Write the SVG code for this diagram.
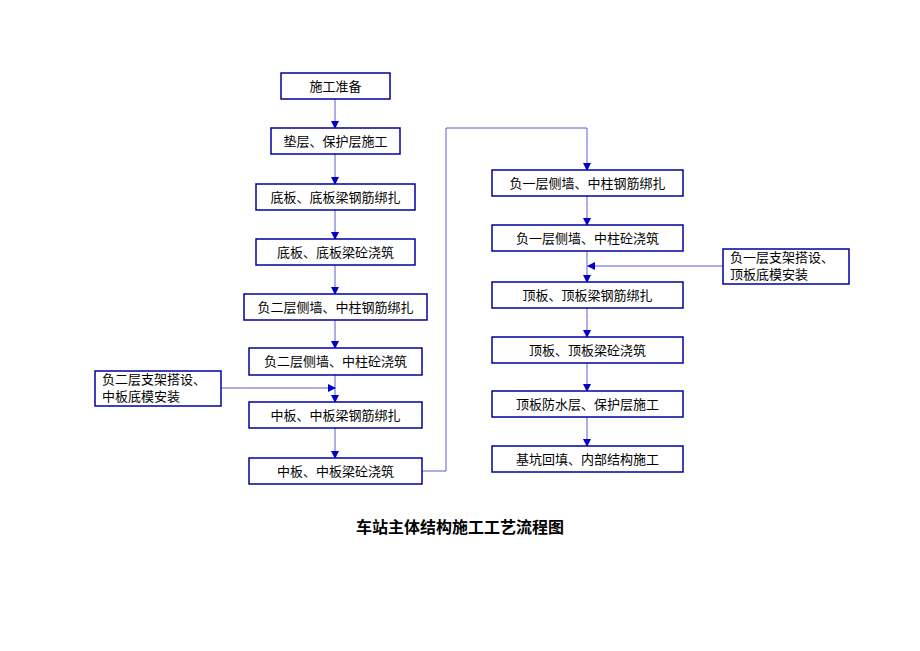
<svg xmlns="http://www.w3.org/2000/svg" width="920" height="651" viewBox="0 0 920 651">
<defs>
<style>
.b{fill:#fff;stroke:#0000a0;stroke-width:1.5}
.t{font-family:"Liberation Sans","Noto Sans CJK SC",sans-serif;font-size:13px;fill:#000;text-anchor:middle}
.l{font-family:"Liberation Sans","Noto Sans CJK SC",sans-serif;font-size:13px;fill:#000}
.c{fill:none;stroke:#3333cc;stroke-width:0.8}
</style>
<marker id="a" markerWidth="8" markerHeight="8" refX="7" refY="4" orient="auto" markerUnits="userSpaceOnUse"><path d="M0,0 L8,4 L0,8 Z" fill="#0000cc"/></marker>
</defs>
<rect width="920" height="651" fill="#fff"/>
<g id="connectors">
<line class="c" x1="335" y1="99" x2="335" y2="128" marker-end="url(#a)"/>
<line class="c" x1="335" y1="154" x2="335" y2="184" marker-end="url(#a)"/>
<line class="c" x1="335" y1="210" x2="335" y2="239" marker-end="url(#a)"/>
<line class="c" x1="335" y1="265" x2="335" y2="294" marker-end="url(#a)"/>
<line class="c" x1="335" y1="320" x2="335" y2="348" marker-end="url(#a)"/>
<line class="c" x1="335" y1="375" x2="335" y2="402" marker-end="url(#a)"/>
<line class="c" x1="335" y1="428" x2="335" y2="458" marker-end="url(#a)"/>
<line class="c" x1="221" y1="388" x2="335" y2="388" marker-end="url(#a)"/>
<polyline class="c" points="422,471 446,471 446,128 587,128 587,170" marker-end="url(#a)"/>
<line class="c" x1="587" y1="196" x2="587" y2="225" marker-end="url(#a)"/>
<line class="c" x1="587" y1="251" x2="587" y2="282" marker-end="url(#a)"/>
<line class="c" x1="587" y1="308" x2="587" y2="337" marker-end="url(#a)"/>
<line class="c" x1="587" y1="363" x2="587" y2="391" marker-end="url(#a)"/>
<line class="c" x1="587" y1="417" x2="587" y2="446" marker-end="url(#a)"/>
<line class="c" x1="723" y1="266" x2="588" y2="266" marker-end="url(#a)"/>
</g>
<g id="n1"><rect class="b" x="281" y="73" width="109" height="26"/><text class="t" x="335.5" y="91">施工准备</text></g>
<g id="n2"><rect class="b" x="271" y="128" width="129" height="26"/><text class="t" x="335.5" y="146">垫层、保护层施工</text></g>
<g id="n3"><rect class="b" x="256" y="184" width="159" height="26"/><text class="t" x="335.5" y="202">底板、底板梁钢筋绑扎</text></g>
<g id="n4"><rect class="b" x="256" y="239" width="159" height="26"/><text class="t" x="335.5" y="257">底板、底板梁砼浇筑</text></g>
<g id="n5"><rect class="b" x="244" y="294" width="183" height="26"/><text class="t" x="335.5" y="312">负二层侧墙、中柱钢筋绑扎</text></g>
<g id="n6"><rect class="b" x="249" y="348" width="173" height="27"/><text class="t" x="335.5" y="366">负二层侧墙、中柱砼浇筑</text></g>
<g id="n7"><rect class="b" x="249" y="402" width="173" height="26"/><text class="t" x="335.5" y="420">中板、中板梁钢筋绑扎</text></g>
<g id="n8"><rect class="b" x="249" y="458" width="173" height="26"/><text class="t" x="335.5" y="476">中板、中板梁砼浇筑</text></g>
<g id="s1"><rect class="b" x="95" y="371" width="126" height="35"/><text class="l" x="102" y="384">负二层支架搭设、</text><text class="l" x="102" y="401">中板底模安装</text></g>
<g id="r1"><rect class="b" x="492" y="170" width="191" height="26"/><text class="t" x="587.5" y="188">负一层侧墙、中柱钢筋绑扎</text></g>
<g id="r2"><rect class="b" x="492" y="225" width="191" height="26"/><text class="t" x="587.5" y="243">负一层侧墙、中柱砼浇筑</text></g>
<g id="r3"><rect class="b" x="492" y="282" width="191" height="26"/><text class="t" x="587.5" y="300">顶板、顶板梁钢筋绑扎</text></g>
<g id="r4"><rect class="b" x="492" y="337" width="191" height="26"/><text class="t" x="587.5" y="355">顶板、顶板梁砼浇筑</text></g>
<g id="r5"><rect class="b" x="492" y="391" width="191" height="26"/><text class="t" x="587.5" y="409">顶板防水层、保护层施工</text></g>
<g id="r6"><rect class="b" x="492" y="446" width="191" height="26"/><text class="t" x="587.5" y="464">基坑回填、内部结构施工</text></g>
<g id="s2"><rect class="b" x="723" y="249" width="126" height="35"/><text class="l" x="730" y="262">负一层支架搭设、</text><text class="l" x="730" y="279">顶板底模安装</text></g>
<text x="460" y="533" font-family="Liberation Sans,'Noto Sans CJK SC',sans-serif" font-size="16" font-weight="bold" text-anchor="middle">车站主体结构施工工艺流程图</text>
</svg>
